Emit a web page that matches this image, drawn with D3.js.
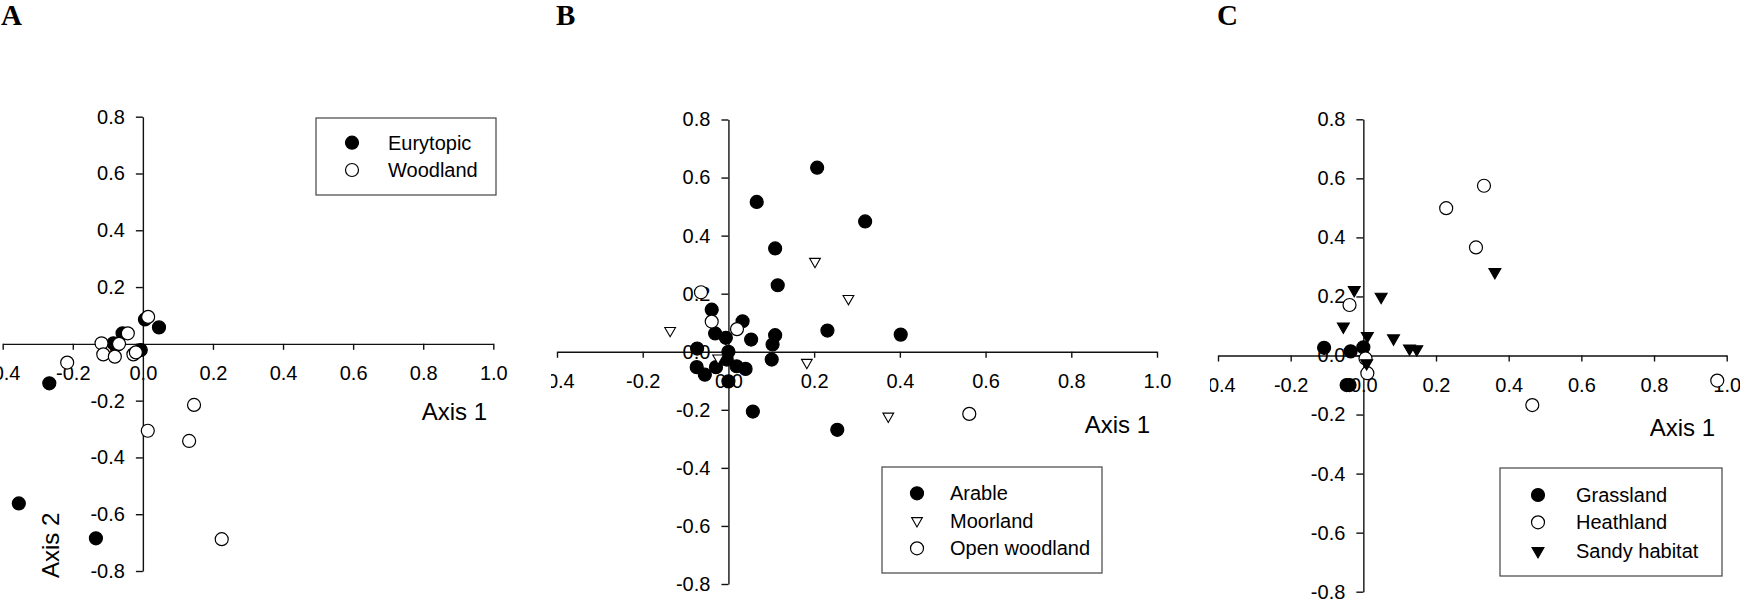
<!DOCTYPE html>
<html>
<head>
<meta charset="utf-8">
<script src="https://cdn.jsdelivr.net/npm/d3@7"></script>
<style>
body { margin: 0; background: #fff; }
svg text { font-family: "Liberation Sans", Arial, sans-serif; fill: #000; }
</style>
</head>
<body>
<div id="plot"></div>
<script>
// tick labels shared by all three panels
const xTicks = [-0.4, -0.2, 0.0, 0.2, 0.4, 0.6, 0.8, 1.0];
const yTicks = [-0.8, -0.6, -0.4, -0.2, 0.0, 0.2, 0.4, 0.6, 0.8];

// panel A  [axis 1, axis 2]
const eurytopic = [[-0.267,-0.139],[-0.354,-0.562],[-0.134,-0.685],[0.046,0.058],[0.006,0.086],
    [-0.058,0.037],[-0.084,0.002],[-0.006,-0.022]];
const woodland = [[-0.216,-0.066],[0.015,0.095],[-0.043,0.037],[-0.118,0.002],[-0.068,0.0],
    [-0.113,-0.037],[-0.080,-0.045],[-0.027,-0.037],[-0.020,-0.030],[0.146,-0.215],
    [0.014,-0.306],[0.132,-0.342],[0.225,-0.688]];

// panel B
const arable = [[0.207,0.634],[0.066,0.516],[0.319,0.449],[0.109,0.356],[0.115,0.229],[0.231,0.073],
    [0.402,0.059],[0.057,-0.206],[0.254,-0.269],[0.109,0.057],[0.103,0.025],[0.101,-0.027],
    [0.053,0.042],[0.033,0.105],[-0.039,0.145],[-0.031,0.063],[-0.006,0.048],[-0.073,0.011],
    [-0.074,-0.053],[-0.055,-0.079],[-0.029,-0.053],[0.0,0.0],[-0.004,-0.027],[0.019,-0.050],
    [0.040,-0.059],[0.0,-0.102]];
const moorland = [[0.202,0.311],[0.280,0.183],[-0.136,0.073],[-0.024,-0.022],[0.183,-0.037],[0.373,-0.222]];
const openWoodland = [[-0.064,0.205],[-0.039,0.104],[0.020,0.078],[0.562,-0.214]];

// panel C
const grassland = [[-0.108,0.026],[-0.035,0.014],[0.0,0.028],[-0.046,-0.100],[-0.038,-0.100]];
const heathland = [[0.332,0.575],[0.228,0.499],[0.310,0.366],[-0.038,0.171],[0.006,-0.010],
    [0.011,-0.060],[0.465,-0.168],[0.974,-0.085]];
const sandyHabitat = [[0.362,0.283],[-0.025,0.222],[0.049,0.199],[-0.055,0.098],[0.011,0.066],
    [0.083,0.058],[0.127,0.024],[0.147,0.021],[0.009,-0.026]];

const width = 1740, height = 601;

const panels = [
    {
        letter: "A", letterX: 1, clip: [0, 551],
        xRange: [2.7, 493.3], yRange: [116.7, 571],
        axis1: {x: 487, y: 420}, axis2: {x: 59, y: 578},
        legend: {x: 316, y: 118, w: 180, h: 77, mx: 352, tx: 388, rows: [142.7, 170]},
        series: [
            {name: "Eurytopic", data: eurytopic, shape: "circle", fill: "#000"},
            {name: "Woodland", data: woodland, shape: "circle", fill: "#fff"}
        ]
    },
    {
        letter: "B", letterX: 556, clip: [551, 1210],
        xRange: [557, 1157], yRange: [119.5, 584],
        axis1: {x: 1150, y: 433},
        legend: {x: 882, y: 467, w: 220, h: 106, mx: 917, tx: 950, rows: [493.3, 520.7, 548.3]},
        series: [
            {name: "Arable", data: arable, shape: "circle", fill: "#000"},
            {name: "Moorland", data: moorland, shape: "triangle", fill: "#fff", size: 50},
            {name: "Open woodland", data: openWoodland, shape: "circle", fill: "#fff"}
        ]
    },
    {
        letter: "C", letterX: 1217, clip: [1210, 1740],
        xRange: [1218, 1726.7], yRange: [119.3, 591.7],
        axis1: {x: 1715, y: 436},
        legend: {x: 1500, y: 468, w: 222, h: 108, mx: 1538, tx: 1576, rows: [495, 522.3, 551]},
        series: [
            {name: "Grassland", data: grassland, shape: "circle", fill: "#000"},
            {name: "Heathland", data: heathland, shape: "circle", fill: "#fff"},
            {name: "Sandy habitat", data: sandyHabitat, shape: "triangle", fill: "#000", size: 62}
        ]
    }
];

const fmt = d => d.toFixed(1);

function drawMarker(g, s, cx, cy) {
    if (s.shape == "circle") {
        g.append("circle")
            .attr("cx", cx).attr("cy", cy).attr("r", 6.5)
            .attr("fill", s.fill).attr("stroke", "#000").attr("stroke-width", 1.2);
    } else {
        g.append("path")
            .attr("d", d3.symbol().type(d3.symbolTriangle).size(s.size)())
            .attr("transform", `translate(${cx},${cy}) rotate(180)`)
            .attr("fill", s.fill).attr("stroke", "#000").attr("stroke-width", 1.1);
    }
}

function styleAxis(a) {
    a.attr("font-size", 20).attr("font-family", null);
    a.select(".domain").attr("stroke", "#111").attr("stroke-width", 1.4);
    a.selectAll(".tick line").attr("stroke", "#111").attr("stroke-width", 1.4);
    a.selectAll(".tick text").attr("fill", "#000");
}

function drawPanel(svg, p, i) {
    svg.append("clipPath").attr("id", "clip" + i)
        .append("rect")
        .attr("x", p.clip[0]).attr("y", 0)
        .attr("width", p.clip[1] - p.clip[0]).attr("height", height);

    const g = svg.append("g").attr("clip-path", `url(#clip${i})`);

    // scales
    const x = d3.scaleLinear().domain([-0.4, 1.0]).range(p.xRange);
    const y = d3.scaleLinear().domain([-0.8, 0.8]).range([p.yRange[1], p.yRange[0]]);

    // axes cross at the origin
    const xAxis = g.append("g")
        .attr("transform", `translate(0,${y(0)})`)
        .call(d3.axisBottom(x).tickValues(xTicks).tickFormat(fmt)
            .tickSizeInner(6).tickSizeOuter(0).tickPadding(16));
    styleAxis(xAxis);

    const yAxis = g.append("g")
        .attr("transform", `translate(${x(0)},0)`)
        .call(d3.axisLeft(y).tickValues(yTicks).tickFormat(fmt)
            .tickSizeInner(7).tickSizeOuter(0).tickPadding(11));
    styleAxis(yAxis);

    // points
    p.series.forEach(s => {
        const sg = g.append("g");
        s.data.forEach(d => drawMarker(sg, s, x(d[0]), y(d[1])));
    });

    // axis titles
    g.append("text")
        .attr("x", p.axis1.x).attr("y", p.axis1.y)
        .attr("text-anchor", "end").attr("font-size", 24)
        .text("Axis 1");
    if (p.axis2) {
        g.append("text")
            .attr("transform", `translate(${p.axis2.x},${p.axis2.y}) rotate(-90)`)
            .attr("font-size", 24)
            .text("Axis 2");
    }

    // legend
    const L = p.legend;
    g.append("rect")
        .attr("x", L.x).attr("y", L.y).attr("width", L.w).attr("height", L.h)
        .attr("fill", "#fff").attr("stroke", "#444").attr("stroke-width", 1.2);
    p.series.forEach((s, k) => {
        drawMarker(g, s, L.mx, L.rows[k]);
        g.append("text")
            .attr("x", L.tx).attr("y", L.rows[k] + 7)
            .attr("font-size", 20)
            .text(s.name);
    });

    // panel letter
    g.append("text")
        .attr("x", p.letterX).attr("y", 25)
        .attr("font-size", 29).attr("font-weight", "bold")
        .style("font-family", '"Liberation Serif", "Times New Roman", serif')
        .text(p.letter);
}

const svg = d3.select("#plot").append("svg")
    .attr("width", width)
    .attr("height", height);

panels.forEach((p, i) => drawPanel(svg, p, i));
</script>
</body>
</html>
